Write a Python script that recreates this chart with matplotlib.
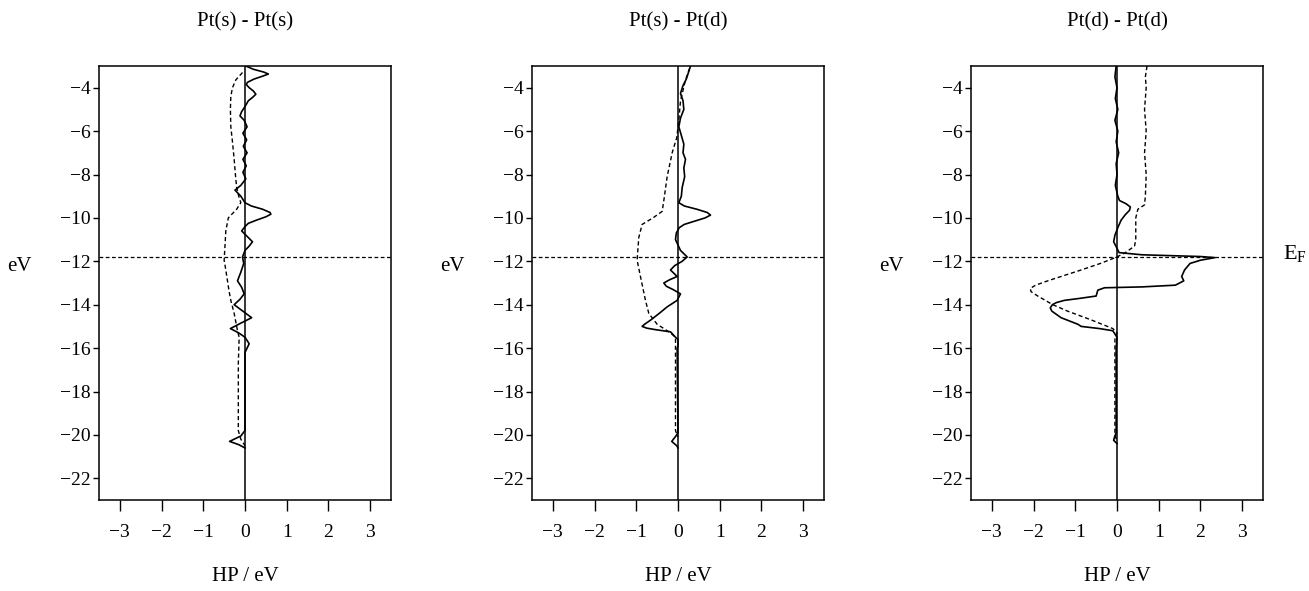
import numpy as np
import matplotlib.pyplot as plt

plt.rcParams['font.family'] = ['Liberation Serif', 'DejaVu Serif']
plt.rcParams['mathtext.fontset'] = 'custom'
plt.rcParams['mathtext.rm'] = 'Liberation Serif'

# Fermi level (eV)
EF = -11.8

titles = ['Pt(s) - Pt(s)', 'Pt(s) - Pt(d)', 'Pt(d) - Pt(d)']
xticks = [-3, -2, -1, 0, 1, 2, 3]
yticks = [-22, -20, -18, -16, -14, -12, -10, -8, -6, -4]

# curves as (energy, HP) pairs
p1_solid = [(-3.0, 0.02), (-3.15, 0.2), (-3.28, 0.45), (-3.37, 0.56), (-3.47, 0.42),
            (-3.6, 0.22), (-3.75, 0.06), (-3.85, 0.03), (-4.0, 0.1), (-4.15, 0.2),
            (-4.3, 0.26), (-4.45, 0.18), (-4.6, 0.08), (-4.87, 0.0), (-5.1, -0.08),
            (-5.3, -0.12), (-5.5, -0.02), (-5.8, 0.05), (-6.1, -0.05), (-6.4, 0.04),
            (-6.7, -0.04), (-7.0, 0.05), (-7.3, -0.05), (-7.6, 0.03), (-7.9, -0.05),
            (-8.2, 0.02), (-8.5, -0.1), (-8.72, -0.24), (-9.0, -0.1), (-9.3, 0.0),
            (-9.45, 0.15), (-9.6, 0.42), (-9.75, 0.6), (-9.83, 0.62), (-9.95, 0.5),
            (-10.1, 0.28), (-10.25, 0.08), (-10.4, 0.0), (-10.6, -0.08), (-10.85, 0.05),
            (-11.1, 0.18), (-11.3, 0.1), (-11.5, 0.0), (-11.8, -0.06), (-12.1, -0.03),
            (-12.5, -0.1), (-12.9, -0.18), (-13.2, -0.08), (-13.5, -0.02), (-13.75, -0.12),
            (-14.0, -0.26), (-14.3, -0.05), (-14.6, 0.16), (-14.85, -0.1), (-15.1, -0.35),
            (-15.3, -0.15), (-15.5, 0.0), (-15.8, 0.1), (-16.0, 0.05), (-16.2, 0.0),
            (-19.8, 0.0), (-20.05, -0.1), (-20.3, -0.37), (-20.45, -0.15), (-20.6, 0.0)]
p1_dashed = [(-3.3, -0.06), (-3.64, -0.22), (-4.0, -0.3), (-4.4, -0.34), (-5.0, -0.35),
             (-5.8, -0.34), (-6.5, -0.3), (-7.3, -0.26), (-8.0, -0.23), (-8.6, -0.2),
             (-9.0, -0.15), (-9.3, -0.1), (-9.6, -0.2), (-10.0, -0.4), (-10.6, -0.46),
             (-11.3, -0.48), (-11.95, -0.5), (-12.4, -0.46), (-12.9, -0.42), (-13.4, -0.38),
             (-13.8, -0.34), (-14.4, -0.26), (-15.2, -0.18), (-15.5, -0.14), (-16.7, -0.16),
             (-18.0, -0.16), (-19.8, -0.16), (-20.2, -0.1), (-20.5, 0.0)]

p2_solid = [(-3.0, 0.3), (-3.3, 0.25), (-3.6, 0.2), (-3.9, 0.12), (-4.26, 0.06),
            (-4.6, 0.12), (-5.0, 0.14), (-5.4, 0.06), (-5.8, 0.02), (-6.2, 0.08),
            (-6.6, 0.14), (-7.0, 0.12), (-7.3, 0.18), (-7.7, 0.14), (-8.1, 0.16),
            (-8.6, 0.1), (-9.0, 0.08), (-9.3, 0.02), (-9.45, 0.15), (-9.6, 0.45),
            (-9.75, 0.7), (-9.87, 0.78), (-10.0, 0.65), (-10.15, 0.4), (-10.3, 0.15),
            (-10.45, 0.03), (-10.7, -0.04), (-11.0, -0.06), (-11.25, 0.0), (-11.5, 0.06),
            (-11.8, 0.22), (-12.0, 0.1), (-12.2, -0.08), (-12.4, -0.18), (-12.55, -0.1),
            (-12.7, -0.02), (-12.85, -0.2), (-13.0, -0.34), (-13.15, -0.28), (-13.3, -0.12),
            (-13.5, 0.06), (-13.8, -0.02), (-14.1, -0.26), (-14.4, -0.45), (-14.7, -0.65),
            (-14.9, -0.8), (-15.0, -0.86), (-15.08, -0.75), (-15.15, -0.54), (-15.25, -0.18),
            (-15.5, -0.06), (-15.6, 0.0), (-15.9, 0.0), (-16.0, -0.02), (-19.9, 0.0),
            (-20.05, -0.05), (-20.3, -0.15), (-20.5, -0.03), (-20.6, 0.0)]
p2_dashed = [(-3.1, 0.28), (-3.64, 0.18), (-4.6, 0.06), (-5.5, 0.02), (-6.3, -0.03),
             (-7.0, -0.14), (-8.1, -0.26), (-9.2, -0.34), (-9.7, -0.38), (-10.0, -0.6),
             (-10.3, -0.86), (-10.9, -0.94), (-11.95, -0.98), (-12.7, -0.9), (-13.8, -0.78),
             (-14.4, -0.7), (-14.9, -0.5), (-15.3, -0.18), (-15.5, -0.06), (-16.1, -0.06),
             (-19.8, -0.06), (-20.1, 0.0)]

p3_solid = [(-3.0, -0.02), (-3.5, -0.05), (-4.0, 0.0), (-4.5, -0.04), (-5.0, 0.02),
            (-5.5, -0.05), (-6.0, 0.02), (-6.5, -0.02), (-7.0, 0.04), (-7.5, -0.02),
            (-8.0, 0.0), (-8.5, -0.04), (-9.0, 0.02), (-9.2, 0.06), (-9.35, 0.22),
            (-9.5, 0.32), (-9.65, 0.3), (-9.85, 0.2), (-10.1, 0.1), (-10.4, 0.03),
            (-10.8, -0.05), (-11.1, -0.08), (-11.4, 0.0), (-11.6, 0.05), (-11.7, 0.6),
            (-11.78, 2.0), (-11.83, 2.35), (-11.95, 2.0), (-12.1, 1.75), (-12.4, 1.62),
            (-12.7, 1.55), (-12.9, 1.6), (-13.1, 1.4), (-13.18, 0.6), (-13.22, -0.3),
            (-13.33, -0.46), (-13.6, -0.5), (-13.7, -0.86), (-13.8, -1.26), (-13.9, -1.45),
            (-14.0, -1.55), (-14.15, -1.6), (-14.3, -1.56), (-14.45, -1.45), (-14.6, -1.34),
            (-14.9, -0.94), (-15.0, -0.86), (-15.1, -0.42), (-15.2, -0.1), (-15.5, 0.0),
            (-16.0, -0.02), (-19.9, -0.02), (-20.1, -0.06), (-20.25, -0.08), (-20.4, 0.0)]
p3_dashed = [(-3.0, 0.72), (-3.5, 0.68), (-4.0, 0.7), (-5.0, 0.66), (-6.0, 0.7),
             (-7.0, 0.66), (-8.0, 0.7), (-9.0, 0.68), (-9.4, 0.66), (-9.6, 0.5),
             (-10.0, 0.45), (-11.0, 0.45), (-11.3, 0.42), (-11.6, 0.2), (-11.8, 0.0),
             (-12.1, -0.4), (-12.4, -0.86), (-12.9, -1.66), (-13.1, -1.95), (-13.25, -2.08),
             (-13.4, -2.06), (-13.6, -1.9), (-14.0, -1.54), (-14.3, -1.18), (-14.7, -0.62),
             (-15.1, -0.1), (-15.3, 0.0), (-15.6, -0.05), (-19.9, -0.05), (-20.2, -0.02)]

solids = [p1_solid, p2_solid, p3_solid]
dasheds = [p1_dashed, p2_dashed, p3_dashed]

W, H = 1309, 591
lefts = [99, 532, 971]

fig = plt.figure(figsize=(W / 100, H / 100), dpi=100)

for i in range(3):
    ax = fig.add_axes([lefts[i] / W, 1 - 500 / H, 292 / W, 434 / H])
    e, hp = np.array(solids[i]).T
    ax.plot(hp, e, color='k', lw=1.2, solid_joinstyle='round')
    e, hp = np.array(dasheds[i]).T
    ax.plot(hp, e, color='k', lw=1.0, ls='--', dashes=(3, 2))
    ax.axvline(0, color='k', lw=1.1)
    ax.axhline(EF, color='k', lw=0.9, ls='--', dashes=(3, 2))

    ax.set_xlim(-3.5, 3.5)
    ax.set_ylim(-23, -3)
    ax.set_xticks(xticks)
    ax.set_yticks(yticks)
    ax.tick_params(axis='x', direction='out', length=8, width=1, pad=9, labelsize=14)
    ax.tick_params(axis='y', direction='out', length=4, width=1, pad=2, labelsize=14)
    for sp in ax.spines.values():
        sp.set_linewidth(1.1)

    ax.text(0.5, 1.101, titles[i], transform=ax.transAxes, ha='center', va='center', fontsize=15)
    ax.text(0.5, -0.177, 'HP / eV', transform=ax.transAxes, ha='center', va='center', fontsize=15)
    ax.text(-0.274, 0.537, 'eV', transform=ax.transAxes, ha='center', va='center', fontsize=15)

# Fermi level label
fig.text(1283 / W, 1 - 259 / H, r'E$_{\rm F}$', ha='left', va='baseline', fontsize=16)

fig.savefig('out.png', dpi=100)
